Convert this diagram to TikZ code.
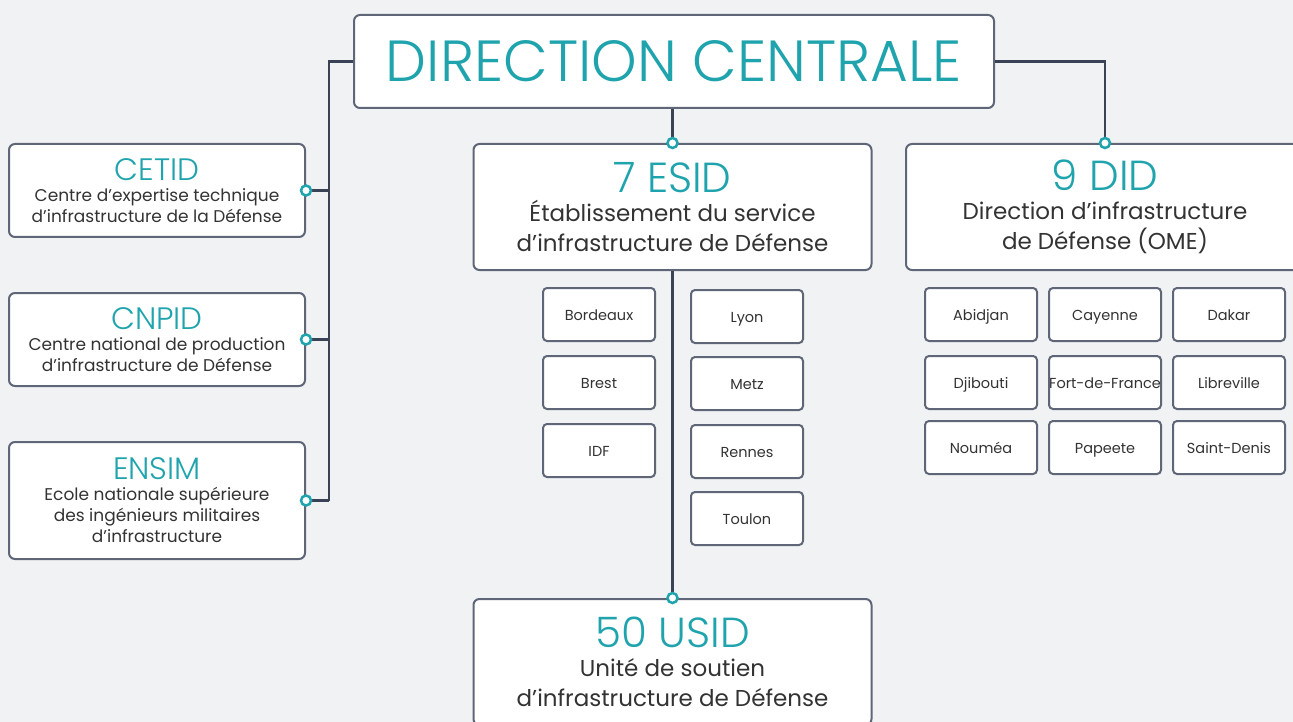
\documentclass[tikz,border=0pt]{standalone}
\usepackage{fontspec}
\setmainfont{Poppins}
\newfontfamily\lightfont{Poppins Light}
\usetikzlibrary{positioning}
\definecolor{bgcol}{HTML}{F1F2F4}
\definecolor{sidteal}{HTML}{1FA4AE}
\definecolor{linecol}{HTML}{3A4356}
\definecolor{boxcol}{HTML}{5E6677}
\definecolor{txtcol}{HTML}{333333}
\newcommand\bighead[1]{{\color{sidteal}\lightfont\fontsize{42}{42}\selectfont #1}}
\newcommand\sidehead[1]{{\color{sidteal}\lightfont\fontsize{31}{31}\selectfont #1}}
\begin{document}
\begin{tikzpicture}[x=1pt,y=-1pt,
  box/.style={draw=boxcol, line width=2pt, fill=white, rounded corners=6pt, align=center, text=txtcol, inner sep=0pt},
  bigbox/.style={box, minimum width=398pt, minimum height=126pt, font=\fontsize{23}{30}\selectfont},
  sidebox/.style={box, minimum width=296pt, minimum height=93pt, font=\fontsize{17}{21}\selectfont},
  citybox/.style={box, minimum width=112pt, minimum height=53pt, rounded corners=4pt, text height=12pt, text depth=1pt, font=\fontsize{14.5}{16}\selectfont},
  link/.style={draw=linecol, line width=2.5pt},
  dot/.style={circle, draw=sidteal, fill=white, line width=2.5pt, inner sep=0pt, minimum size=10pt}]
            \fill [bgcol] (0,0) rectangle (1293,722);
            \useasboundingbox (0,0) rectangle (1293,722);
            \node [box, minimum width=640pt, minimum height=93pt] (dc) at (674,61.5) {\textcolor{sidteal}{\lightfont\fontsize{58}{58}\selectfont DIRECTION CENTRALE}};
            \node [bigbox] (esid) at (672.5,207) {\bighead{7 ESID}\\[-1pt] Établissement du service\\ d’infrastructure de Défense};
            \node [bigbox] (did) at (1105,207) {\bighead{9 DID}\\[-1pt] Direction d’infrastructure\\ de Défense (OME)};
            \node [bigbox] (usid) at (672.5,662) {\bighead{50 USID}\\[-1pt] Unité de soutien\\ d’infrastructure de Défense};
            \node [sidebox] (cetid) at (157,190.5) {\sidehead{CETID}\\[0pt] Centre d’expertise technique\\ d’infrastructure de la Défense};
            \node [sidebox] (cnpid) at (157,339.5) {\sidehead{CNPID}\\[0pt] Centre national de production\\ d’infrastructure de Défense};
            \node [sidebox, minimum height=117pt] (ensim) at (157,500.5) {\sidehead{ENSIM}\\[0pt] Ecole nationale supérieure\\ des ingénieurs militaires\\ d’infrastructure};
            \foreach \name/\x/\y/\txt in {bdx/599/314.5/Bordeaux, brest/599/382.5/Brest, idf/599/450.5/IDF,
              lyon/747/316.5/Lyon, metz/747/383.5/Metz, rennes/747/451.5/Rennes, toulon/747/518.5/Toulon,
              abidjan/981/314.5/Abidjan, cayenne/1105/314.5/Cayenne, dakar/1229/314.5/Dakar,
              djibouti/981/382.5/Djibouti, fdf/1105/382.5/Fort-de-France, libreville/1229/382.5/Libreville,
              noumea/981/447.5/Nouméa, papeete/1105/447.5/Papeete, stdenis/1229/447.5/Saint-Denis}
              \node [citybox] (\name) at (\x,\y) {\txt};
            \coordinate (spine) at (329,0);
            \draw [link] (dc.west) -| (spine |- ensim.east);
            \draw [link] (cetid.east) -- (cetid.east -| spine);
            \draw [link] (cnpid.east) -- (cnpid.east -| spine);
            \draw [link] (ensim.east) -- (ensim.east -| spine);
            \draw [link] (dc.east) -| (did.north);
            \draw [link] (esid.north |- dc.south) -- (esid.north);
            \draw [link] (esid.south) -- (usid.north);
            \foreach \anc in {esid.north, did.north, usid.north, cetid.east, cnpid.east, ensim.east}
              \node [dot] at (\anc) {};
\end{tikzpicture}
\end{document}
